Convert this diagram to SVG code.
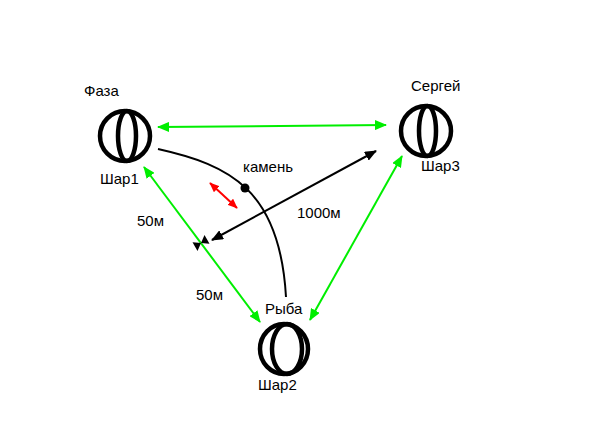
<svg xmlns="http://www.w3.org/2000/svg" width="590" height="442" viewBox="0 0 590 442">
<style>
text{font-family:"Liberation Sans",Arial,sans-serif;font-size:15px;fill:#000}
.ball{fill:none;stroke:#000;stroke-width:4.5}
.g{stroke:#00ee00;stroke-width:2;fill:none;marker-start:url(#ga);marker-end:url(#ga)}
.k{stroke:#000;stroke-width:2;fill:none}
</style>
<defs>
<marker id="ga" viewBox="0 0 12 10" refX="11" refY="5" markerWidth="12" markerHeight="10" orient="auto-start-reverse" markerUnits="userSpaceOnUse"><path d="M0,0L12,5L0,10z" fill="#00ee00"/></marker>
<marker id="ka" viewBox="0 0 12 10" refX="11" refY="5" markerWidth="12" markerHeight="10" orient="auto-start-reverse" markerUnits="userSpaceOnUse"><path d="M0,0L12,5L0,10z" fill="#000"/></marker>
<marker id="ra" viewBox="0 0 12 10" refX="11" refY="5" markerWidth="10" markerHeight="9" orient="auto-start-reverse" markerUnits="userSpaceOnUse"><path d="M0,0L12,5L0,10z" fill="#ff0000"/></marker>
</defs>
<rect width="590" height="442" fill="#fff"/>
<g id="connectors">
<line class="g" x1="158" y1="127" x2="386" y2="125"/>
<line class="g" x1="144" y1="167" x2="260" y2="322"/>
<line class="g" x1="402" y1="156" x2="310" y2="320"/>
<line class="k" x1="212" y1="240" x2="376" y2="151" marker-start="url(#ka)" marker-end="url(#ka)"/>
<path class="k" d="M158,149 C230,165 280,190 286,297"/>
<line x1="210" y1="183" x2="237" y2="208" stroke="#ff0000" stroke-width="2" marker-start="url(#ra)" marker-end="url(#ra)"/>
<circle cx="245" cy="188" r="4.5" fill="#000"/>
<polygon points="201,243 197.5,250.9 192.5,242.3" fill="#000"/>
<polygon points="201,243 209.5,243.7 204.5,235.1" fill="#000"/>
</g>
<g id="shar1">
<circle class="ball" cx="125" cy="136" r="25"/>
<ellipse class="ball" cx="127" cy="136" rx="9" ry="25"/>
<text x="84" y="96">Фаза</text>
<text x="100" y="184">Шар1</text>
</g>
<g id="shar3">
<circle class="ball" cx="426" cy="131" r="25"/>
<ellipse class="ball" cx="427.5" cy="131" rx="8.5" ry="25"/>
<text x="411" y="91">Сергей</text>
<text x="421" y="171">Шар3</text>
</g>
<g id="shar2">
<ellipse class="ball" cx="284" cy="349" rx="24" ry="25"/>
<ellipse class="ball" cx="287" cy="349" rx="15" ry="25"/>
<text x="265" y="314">Рыба</text>
<text x="258" y="390">Шар2</text>
</g>
<g id="labels">
<text x="243" y="172">камень</text>
<text x="297" y="218">1000м</text>
<text x="137" y="226">50м</text>
<text x="196" y="300">50м</text>
</g>
</svg>
